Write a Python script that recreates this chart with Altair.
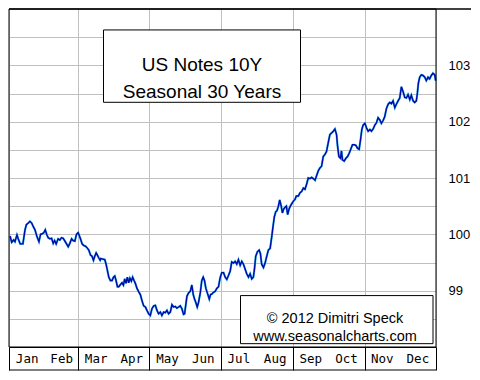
import altair as alt
import pandas as pd

# (day of year, price)
q1 = [(0.9, 99.97), (2.3, 99.86), (4.0, 99.90), (5.1, 99.87), (6.8, 99.99), (7.9, 99.92), (9.6, 99.83),
      (11.9, 99.83), (13.6, 100.07), (14.8, 100.17), (16.5, 100.20), (17.9, 100.23), (19.4, 100.20),
      (20.7, 100.14), (22.2, 100.08), (23.9, 99.96), (25.6, 99.87), (27.0, 100.00), (28.4, 100.01),
      (29.8, 100.03), (31.0, 100.08), (32.2, 100.00), (33.5, 99.94), (35.0, 99.92), (36.4, 99.93),
      (37.8, 99.84), (39.0, 99.89), (40.3, 99.83), (42.0, 99.92), (43.5, 99.90), (44.9, 99.94),
      (46.3, 99.93), (47.8, 99.88), (49.2, 99.83), (50.6, 99.78), (52.0, 99.84), (53.5, 99.92),
      (54.8, 99.89), (56.3, 99.88), (57.7, 100.00), (59.1, 100.03), (61.1, 99.92), (62.5, 99.83),
      (64.0, 99.80), (65.4, 99.79), (66.8, 99.76), (68.2, 99.72), (69.7, 99.63), (71.0, 99.61),
      (72.2, 99.54), (73.3, 99.61), (74.5, 99.67), (75.6, 99.63), (76.8, 99.58), (77.9, 99.54),
      (78.5, 99.57), (80.2, 99.56), (81.9, 99.55), (83.0, 99.47), (84.2, 99.35), (85.3, 99.24),
      (86.7, 99.18), (88.1, 99.18), (89.3, 99.24)]
q2 = [(90.4, 99.26), (91.5, 99.18), (92.7, 99.07), (93.8, 99.07), (95.3, 99.11), (96.6, 99.14),
      (97.8, 99.10), (98.9, 99.21), (100.0, 99.13), (101.2, 99.24), (102.3, 99.14), (103.4, 99.22),
      (104.6, 99.17), (105.7, 99.24), (106.9, 99.18), (108.0, 99.13), (109.4, 99.04), (110.9, 98.98),
      (112.3, 98.93), (113.7, 98.82), (115.1, 98.73), (116.6, 98.71), (117.9, 98.65), (119.4, 98.59),
      (120.8, 98.56), (122.2, 98.68), (123.7, 98.73), (125.1, 98.74), (126.5, 98.65), (127.9, 98.59),
      (129.4, 98.62), (130.7, 98.56), (132.2, 98.62), (133.6, 98.61), (135.0, 98.65), (136.4, 98.59),
      (137.9, 98.62), (139.3, 98.75), (140.7, 98.71), (142.2, 98.72), (143.5, 98.69), (145.0, 98.71),
      (146.4, 98.73), (147.8, 98.68), (149.2, 98.58), (150.1, 98.59), (151.2, 98.76), (152.1, 98.90),
      (153.5, 98.96), (155.0, 98.99), (156.3, 99.10), (157.5, 98.93), (158.6, 98.85), (159.7, 98.79),
      (160.9, 98.71), (162.0, 98.79), (163.5, 98.96), (164.8, 99.18), (166.0, 99.24), (167.1, 99.18),
      (168.3, 99.04), (170.0, 98.93), (171.2, 98.85), (172.3, 98.93), (173.4, 98.94), (174.8, 98.97),
      (176.3, 98.99), (177.6, 99.04), (179.1, 99.07), (180.5, 99.23)]
q3 = [(181.9, 99.32), (183.4, 99.32), (184.8, 99.24), (186.2, 99.20), (187.6, 99.27), (189.1, 99.35),
      (190.4, 99.51), (191.9, 99.49), (193.3, 99.52), (194.7, 99.47), (196.1, 99.55), (197.6, 99.45),
      (199.0, 99.52), (200.4, 99.47), (201.9, 99.38), (203.2, 99.30), (204.7, 99.24), (206.1, 99.30),
      (207.5, 99.21), (208.9, 99.24), (209.8, 99.38), (210.9, 99.61), (212.3, 99.69), (213.8, 99.72),
      (214.9, 99.66), (216.0, 99.47), (217.5, 99.41), (218.9, 99.49), (220.3, 99.61), (221.7, 99.72),
      (223.2, 99.75), (224.5, 99.94), (225.7, 100.14), (226.8, 100.31), (228.0, 100.40), (229.1, 100.42),
      (230.3, 100.50), (231.4, 100.61), (232.6, 100.51), (233.7, 100.38), (234.8, 100.45), (236.0, 100.48),
      (237.1, 100.50), (238.2, 100.35), (239.4, 100.45), (240.5, 100.50), (241.6, 100.54), (243.1, 100.59),
      (244.5, 100.62), (245.6, 100.68), (247.3, 100.68), (248.8, 100.74), (250.1, 100.76), (251.6, 100.82),
      (253.0, 100.80), (254.4, 100.89), (255.8, 101.00), (257.3, 100.99), (258.7, 101.01), (260.1, 100.99),
      (261.6, 100.96), (262.9, 101.04), (264.4, 101.13), (265.8, 101.18), (267.2, 101.21), (268.6, 101.38),
      (270.1, 101.42), (271.4, 101.47)]
q4 = [(272.9, 101.63), (274.3, 101.77), (275.7, 101.80), (277.2, 101.83), (278.6, 101.87), (280.0, 101.77),
      (280.8, 101.58), (282.0, 101.38), (283.4, 101.35), (284.2, 101.48), (285.1, 101.32), (286.5, 101.30),
      (288.0, 101.35), (289.4, 101.38), (290.8, 101.44), (292.3, 101.52), (293.6, 101.59), (295.1, 101.59),
      (296.5, 101.58), (297.9, 101.53), (299.3, 101.51), (300.5, 101.68), (301.6, 101.86), (302.7, 101.94),
      (304.2, 101.97), (305.6, 101.89), (307.0, 101.83), (308.5, 101.86), (309.8, 101.83), (311.3, 101.87),
      (312.7, 101.94), (314.1, 101.98), (315.5, 102.07), (317.0, 102.03), (318.3, 101.97), (319.8, 102.02),
      (321.2, 102.09), (322.6, 102.23), (324.1, 102.31), (325.5, 102.34), (326.9, 102.32), (328.3, 102.37),
      (329.8, 102.25), (331.1, 102.31), (332.6, 102.37), (334.0, 102.42), (335.4, 102.62), (336.9, 102.53),
      (338.3, 102.43), (339.7, 102.42), (341.1, 102.48), (342.6, 102.39), (343.9, 102.47), (345.4, 102.37),
      (346.8, 102.34), (348.2, 102.37), (349.1, 102.51), (349.9, 102.68), (351.1, 102.79), (352.5, 102.83),
      (353.9, 102.82), (355.4, 102.79), (356.7, 102.73), (358.2, 102.79), (359.6, 102.76), (361.0, 102.82),
      (362.4, 102.86), (363.9, 102.83), (364.7, 102.73)]

months = ["Jan", "Feb", "Mar", "Apr", "May", "Jun", "Jul", "Aug", "Sep", "Oct", "Nov", "Dec"]
month_starts = [0, 31, 59, 90, 120, 151, 181, 212, 243, 273, 304, 334, 365]
y_grid = [98.5, 99, 99.5, 100, 100.5, 101, 101.5, 102, 102.5, 103, 103.5]
title_lines = ["US Notes 10Y", "Seasonal 30 Years"]
credit_lines = ["\u00a9 2012  Dimitri Speck", "www.seasonalcharts.com"]

W, H = 427, 338
RP, BP = 35, 24
sy = H / 355.0

df = pd.DataFrame(q1 + q2 + q3 + q4, columns=["day", "value"])
mdf = pd.DataFrame({"month": months,
                    "mid": [(month_starts[i] + month_starts[i + 1]) / 2 for i in range(12)]})
one = pd.DataFrame({"k": [0]})

xscale = alt.Scale(domain=[0, 365], nice=False, zero=False)
yscale = alt.Scale(domain=[98, 104], nice=False, zero=False)

xaxis = alt.Axis(values=month_starts, labels=False, ticks=True, tickColor="black", tickSize=23,
                 tickWidth=1, domain=True, domainColor="black", grid=True, gridColor="#c0c0c0",
                 gridWidth=1, gridOpacity=1, title=None)
yaxis = alt.Axis(orient="right", values=y_grid,
                 labelExpr="datum.value % 1 === 0 ? format(datum.value, 'd') : ''",
                 ticks=False, domain=False, grid=True, gridColor="#c0c0c0", gridWidth=1, gridOpacity=1,
                 labelPadding=12, labelFont="Liberation Sans", labelFontSize=13, labelColor="black",
                 title=None)

base = alt.Chart(df).encode(
    x=alt.X("day:Q", scale=xscale, axis=xaxis),
    y=alt.Y("value:Q", scale=yscale, axis=yaxis),
)
glow = base.mark_line(color="#40c0f0", strokeWidth=2.2)
line = base.mark_line(color="#0008a8", strokeWidth=1.4)

month_text = alt.Chart(mdf).mark_text(font="DejaVu Sans Mono", fontSize=12.5, color="black",
                                      baseline="middle", align="center").encode(
    x=alt.X("mid:Q", scale=xscale), y=alt.value(H + 11.5), text="month:N")

title_box = alt.Chart(one).mark_rect(fill="white", stroke="black", strokeWidth=1).encode(
    x=alt.value(94.5), x2=alt.value(291.5), y=alt.value(22 * sy), y2=alt.value(98 * sy))
title_text = alt.Chart(one).mark_text(text=title_lines, font="Liberation Sans", fontSize=19,
                                      lineHeight=28 * sy, color="black", align="center",
                                      baseline="middle").encode(
    x=alt.value(193), y=alt.value(59 * sy))

credit_box = alt.Chart(one).mark_rect(fill="white", stroke="black", strokeWidth=1).encode(
    x=alt.value(231.5), x2=alt.value(424), y=alt.value(301 * sy), y2=alt.value(351.5 * sy))
credit_text = alt.Chart(one).mark_text(text=credit_lines, font="Liberation Sans", fontSize=14.5,
                                       lineHeight=18 * sy, color="black", align="center",
                                       baseline="middle").encode(
    x=alt.value(326), y=alt.value(326 * sy))

frame = alt.Chart(one).mark_rect(fill=None, stroke="black", strokeWidth=1).encode(
    x=alt.value(0), x2=alt.value(W), y=alt.value(0), y2=alt.value(H))
top_line = alt.Chart(one).mark_rule(color="black", strokeWidth=1.5).encode(
    x=alt.value(0), x2=alt.value(W + RP), y=alt.value(0))
bottom_line = alt.Chart(one).mark_rule(color="black", strokeWidth=1).encode(
    x=alt.value(0), x2=alt.value(W), y=alt.value(H + 23))

chart = alt.layer(
    glow, line, title_box, title_text, credit_box, credit_text, month_text, frame, top_line, bottom_line
).properties(
    width=W, height=H,
    autosize=alt.AutoSizeParams(type="none"),
    padding={"left": 1, "top": 1, "right": RP, "bottom": BP},
    background="white",
).configure_view(stroke=None)

chart.save("out.html", embed_options={"renderer": "svg", "actions": False})
